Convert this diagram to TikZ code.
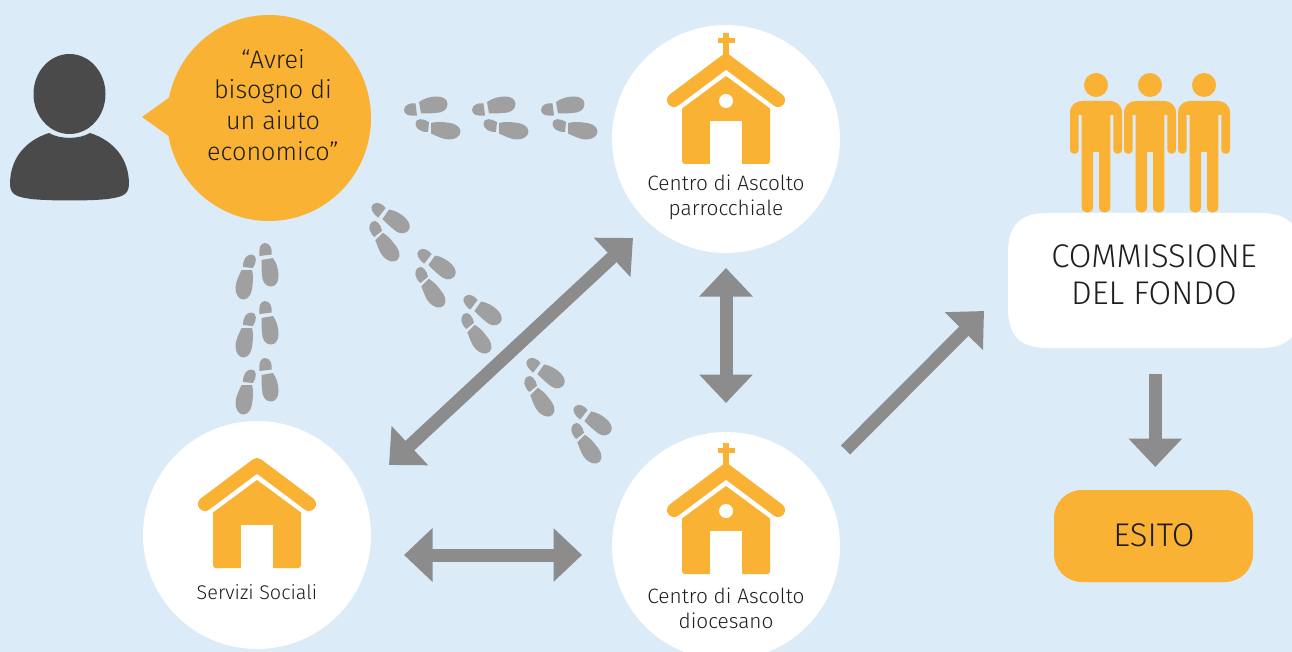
\documentclass[tikz,border=0pt]{standalone}
\usepackage{fontspec}
\setmainfont{Fira Sans Light}
\usetikzlibrary{arrows.meta,shapes.geometric}
\definecolor{bgblue}{HTML}{DCEBF8}
\definecolor{orng}{HTML}{F9B233}
\definecolor{darkp}{HTML}{4A4A4A}
\definecolor{arrowg}{HTML}{8C8C8C}
\definecolor{footg}{HTML}{A0A0A0}
\definecolor{txt}{HTML}{1E1E1E}
\tikzset{
  disc/.style={circle,fill=white,inner sep=0pt,minimum size=228pt},
  lab/.style={text=txt,align=center,inner sep=0pt,font=\fontsize{20.8}{25}\selectfont},
  biglab/.style={text=txt,align=center,inner sep=0pt,font=\fontsize{32.8}{36.5}\selectfont},
  fat/.style={draw=arrowg,line width=13pt,{Triangle[width=52pt,length=28.5pt]}-{Triangle[width=52pt,length=28.5pt]}},
  fatone/.style={draw=arrowg,line width=13pt,-{Triangle[width=52pt,length=28.5pt]}},
}
\newcommand{\footpair}[3]{%
\begin{scope}[shift={(#1,#2)},rotate=-#3]
\fill[footg] (-13,-16) .. controls (-8,-19.5) and (-2,-21.5) .. (5,-21.5)
  .. controls (12,-21.5) and (15.5,-18) .. (15.5,-14)
  .. controls (15.5,-8) and (10,-5) .. (3,-5)
  .. controls (-2,-4.5) and (-6,-4.5) .. (-11,-4.5) -- cycle;
\fill[footg] (-16.5,-14.5) .. controls (-21,-15.5) and (-28,-13.5) .. (-28,-8)
  .. controls (-28,-3.5) and (-23,-1.5) .. (-15,-2.5) -- cycle;
\fill[footg] (-1,5) .. controls (3,4) and (8,3.5) .. (14,4.5)
  .. controls (22,5) and (28.5,8) .. (28.5,13.5)
  .. controls (28.5,18.5) and (23,21.5) .. (17,21.5)
  .. controls (11,21.5) and (6,18.5) .. (-1,15.5) -- cycle;
\fill[footg] (-3,4) .. controls (-8,0.5) and (-16.5,-0.5) .. (-16.5,5.5)
  .. controls (-16.5,10.5) and (-12,14) .. (-4,14) -- cycle;
\end{scope}}
\newcommand{\housebody}[3]{%
\begin{scope}[shift={(#1,#2)}]
\draw[orng,line width=14pt,line cap=round,line join=#3] (-52,24) -- (0,-15) -- (52,24);
\fill[orng] (0,0) -- (44,32.5) -- (44,85) .. controls (44,87) and (43,88) .. (41,88) -- (-41,88) .. controls (-43,88) and (-44,87) .. (-44,85) -- (-44,32.5) -- cycle;
\fill[white] (-16.5,45) rectangle (15.5,88.5);
\end{scope}}
\newcommand{\churchtop}[2]{%
\begin{scope}[shift={(#1,#2)}]
\fill[orng] (-2.7,-43) rectangle (2.7,-10);
\fill[orng] (-8.5,-38) rectangle (8.5,-33);
\fill[white] (0,25) circle[x radius=7,y radius=7];
\end{scope}}
\newcommand{\manfig}[1]{%
\begin{scope}[shift={(#1,0)}]
\fill[orng] (0,85) circle[x radius=12,y radius=12];
\fill[orng] (-26,113) .. controls (-26,105) and (-20,101) .. (-14,101) -- (14,101)
 .. controls (20,101) and (26,105) .. (26,113) -- (26,149)
 .. controls (26,155.5) and (17.3,155.5) .. (17.3,149) -- (17.3,115) -- (14.3,115) -- (14.3,207)
 .. controls (14.3,214.5) and (3,214.5) .. (3,207) -- (3,152) -- (-3,152) -- (-3,207)
 .. controls (-3,214.5) and (-14.3,214.5) .. (-14.3,207) -- (-14.3,115) -- (-17.3,115) -- (-17.3,149)
 .. controls (-17.3,155.5) and (-26,155.5) .. (-26,149) -- cycle;
\end{scope}}
\begin{document}
\begin{tikzpicture}[x=1pt,y=-1pt]
\useasboundingbox (0,0) rectangle (1292,652);
\clip (0,0) rectangle (1292,652);
\fill[bgblue] (0,0) rectangle (1292,652);
% person
\fill[darkp] (69.5,94) circle[x radius=36,y radius=40];
\fill[darkp] (49,133) .. controls (60,139.5) and (79,139.5) .. (90,133)
  .. controls (115,141) and (129,160) .. (129,184)
  .. controls (129,196) and (120,197) .. (108,199)
  .. controls (90,201) and (50,201) .. (31,199)
  .. controls (19,197) and (10,196) .. (10,184)
  .. controls (10,160) and (24,141) .. (49,133) -- cycle;
% speech bubble
\fill[orng] (142,117) -- (170,97) -- (170,137) -- cycle;
\node[ellipse,fill=orng,inner sep=0pt,minimum width=204pt,minimum height=206pt] (bubble) at (269,118) {};
\node[text=txt,align=center,inner sep=0pt,font=\fontsize{25.2}{30.7}\selectfont] (quote) at (273,105) {“Avrei\\bisogno di\\un aiuto\\economico”};
% footprints
\footpair{432}{118}{0}\footpair{500}{118}{0}\footpair{569}{118}{0}
\footpair{257}{271}{90}\footpair{257}{329}{90}\footpair{257}{386}{90}
\footpair{387}{230}{45}\footpair{433}{276}{45}\footpair{479}{322}{45}
\footpair{542}{385}{45}\footpair{589}{432}{45}
% discs
\node[disc] (par) at (726,139) {};
\node[disc] (dio) at (726,546) {};
\node[disc] (soc) at (257,535) {};
\housebody{726}{76}{miter}\churchtop{726}{76}
\housebody{726}{486}{miter}\churchtop{726}{486}
\housebody{257}{480}{round}
\node[lab] (parl) at (726,197) {Centro di Ascolto\\parrocchiale};
\node[lab] (diol) at (726,608) {Centro di Ascolto\\diocesano};
\node[lab,font=\fontsize{19.8}{25}\selectfont] (socl) at (257,592) {Servizi Sociali};
% commission
\manfig{1096}\manfig{1150}\manfig{1204}
\fill[white] (1008,253) .. controls (1008,225) and (1020,213) .. (1048,213) -- (1260,213)
  .. controls (1288,213) and (1300,225) .. (1300,253) -- (1300,308)
  .. controls (1300,336) and (1288,348) .. (1260,348) -- (1048,348)
  .. controls (1020,348) and (1008,336) .. (1008,308) -- cycle;
\node[biglab] (comm) at (1154,275) {COMMISSIONE\\DEL FONDO};
\node[fill=orng,rounded corners=28pt,minimum width=199pt,minimum height=92pt,inner sep=0pt] (esitobox) at (1153.5,536) {};
\node[biglab] (esito) at (1154,535.5) {ESITO};
% block arrows
\coordinate (a1) at (389,465); \coordinate (a2) at (633,238);
\coordinate (b1) at (726,268); \coordinate (b2) at (726,403);
\coordinate (c1) at (404,555); \coordinate (c2) at (582,555);
\coordinate (d1) at (845.5,450); \coordinate (d2) at (984,311);
\coordinate (e1) at (1155.3,374); \coordinate (e2) at (1155.3,467);
\draw[fat] (a1) -- (a2);
\draw[fat] (b1) -- (b2);
\draw[fat] (c1) -- (c2);
\draw[fatone] (d1) -- (d2);
\draw[fatone] (e1) -- (e2);
\end{tikzpicture}
\end{document}
